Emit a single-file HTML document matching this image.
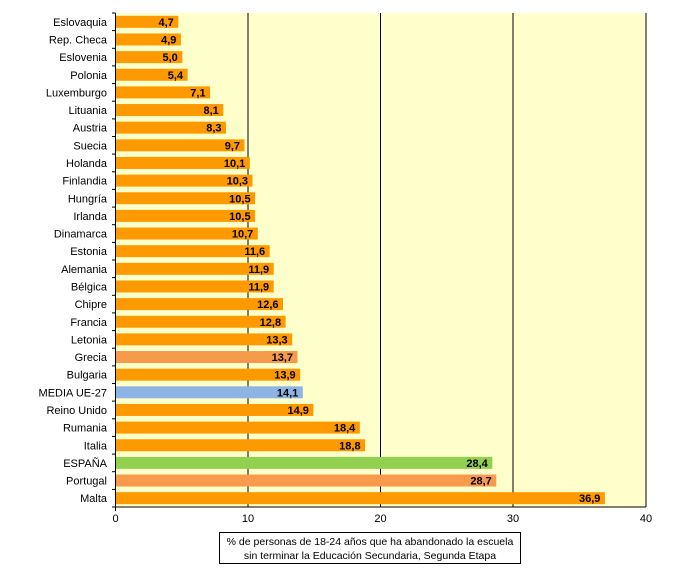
<!DOCTYPE html>
<html><head><meta charset="utf-8"><style>body{margin:0;background:#fff}svg{display:block}</style></head><body>
<svg width="673" height="576" xmlns="http://www.w3.org/2000/svg" font-family="Liberation Sans, Arial, sans-serif" font-size="11">
<rect x="115.5" y="13" width="530.5" height="494" fill="#FFFFCC"/>
<g stroke="#000" stroke-width="1">
<line x1="248" y1="13" x2="248" y2="507"/>
<line x1="380.5" y1="13" x2="380.5" y2="507"/>
<line x1="513" y1="13" x2="513" y2="507"/>
<line x1="646" y1="13" x2="646" y2="507"/>
<line x1="115.5" y1="13" x2="115.5" y2="511"/>
<line x1="112" y1="507" x2="646" y2="507"/>
</g>
<g>
<g transform="translate(0,21.82)"><rect x="116" y="-6" width="62.3" height="12" fill="#FF9900"/><text x="173.8" y="4" text-anchor="end" font-weight="bold">4,7</text><text x="107" y="4" text-anchor="end">Eslovaquia</text></g>
<g transform="translate(0,39.46)"><rect x="116" y="-6" width="64.9" height="12" fill="#FF9900"/><text x="176.4" y="4" text-anchor="end" font-weight="bold">4,9</text><text x="107" y="4" text-anchor="end">Rep. Checa</text></g>
<g transform="translate(0,57.11)"><rect x="116" y="-6" width="66.3" height="12" fill="#FF9900"/><text x="177.8" y="4" text-anchor="end" font-weight="bold">5,0</text><text x="107" y="4" text-anchor="end">Eslovenia</text></g>
<g transform="translate(0,74.75)"><rect x="116" y="-6" width="71.6" height="12" fill="#FF9900"/><text x="183.1" y="4" text-anchor="end" font-weight="bold">5,4</text><text x="107" y="4" text-anchor="end">Polonia</text></g>
<g transform="translate(0,92.39)"><rect x="116" y="-6" width="94.1" height="12" fill="#FF9900"/><text x="205.6" y="4" text-anchor="end" font-weight="bold">7,1</text><text x="107" y="4" text-anchor="end">Luxemburgo</text></g>
<g transform="translate(0,110.04)"><rect x="116" y="-6" width="107.3" height="12" fill="#FF9900"/><text x="218.8" y="4" text-anchor="end" font-weight="bold">8,1</text><text x="107" y="4" text-anchor="end">Lituania</text></g>
<g transform="translate(0,127.68)"><rect x="116" y="-6" width="110" height="12" fill="#FF9900"/><text x="221.5" y="4" text-anchor="end" font-weight="bold">8,3</text><text x="107" y="4" text-anchor="end">Austria</text></g>
<g transform="translate(0,145.32)"><rect x="116" y="-6" width="128.5" height="12" fill="#FF9900"/><text x="240" y="4" text-anchor="end" font-weight="bold">9,7</text><text x="107" y="4" text-anchor="end">Suecia</text></g>
<g transform="translate(0,162.96)"><rect x="116" y="-6" width="133.8" height="12" fill="#FF9900"/><text x="245.3" y="4" text-anchor="end" font-weight="bold">10,1</text><text x="107" y="4" text-anchor="end">Holanda</text></g>
<g transform="translate(0,180.61)"><rect x="116" y="-6" width="136.5" height="12" fill="#FF9900"/><text x="248" y="4" text-anchor="end" font-weight="bold">10,3</text><text x="107" y="4" text-anchor="end">Finlandia</text></g>
<g transform="translate(0,198.25)"><rect x="116" y="-6" width="139.1" height="12" fill="#FF9900"/><text x="250.6" y="4" text-anchor="end" font-weight="bold">10,5</text><text x="107" y="4" text-anchor="end">Hungría</text></g>
<g transform="translate(0,215.89)"><rect x="116" y="-6" width="139.1" height="12" fill="#FF9900"/><text x="250.6" y="4" text-anchor="end" font-weight="bold">10,5</text><text x="107" y="4" text-anchor="end">Irlanda</text></g>
<g transform="translate(0,233.54)"><rect x="116" y="-6" width="141.8" height="12" fill="#FF9900"/><text x="253.3" y="4" text-anchor="end" font-weight="bold">10,7</text><text x="107" y="4" text-anchor="end">Dinamarca</text></g>
<g transform="translate(0,251.18)"><rect x="116" y="-6" width="153.7" height="12" fill="#FF9900"/><text x="265.2" y="4" text-anchor="end" font-weight="bold">11,6</text><text x="107" y="4" text-anchor="end">Estonia</text></g>
<g transform="translate(0,268.82)"><rect x="116" y="-6" width="157.7" height="12" fill="#FF9900"/><text x="269.2" y="4" text-anchor="end" font-weight="bold">11,9</text><text x="107" y="4" text-anchor="end">Alemania</text></g>
<g transform="translate(0,286.46)"><rect x="116" y="-6" width="157.7" height="12" fill="#FF9900"/><text x="269.2" y="4" text-anchor="end" font-weight="bold">11,9</text><text x="107" y="4" text-anchor="end">Bélgica</text></g>
<g transform="translate(0,304.11)"><rect x="116" y="-6" width="167" height="12" fill="#FF9900"/><text x="278.5" y="4" text-anchor="end" font-weight="bold">12,6</text><text x="107" y="4" text-anchor="end">Chipre</text></g>
<g transform="translate(0,321.75)"><rect x="116" y="-6" width="169.6" height="12" fill="#FF9900"/><text x="281.1" y="4" text-anchor="end" font-weight="bold">12,8</text><text x="107" y="4" text-anchor="end">Francia</text></g>
<g transform="translate(0,339.39)"><rect x="116" y="-6" width="176.2" height="12" fill="#FF9900"/><text x="287.7" y="4" text-anchor="end" font-weight="bold">13,3</text><text x="107" y="4" text-anchor="end">Letonia</text></g>
<g transform="translate(0,357.04)"><rect x="116" y="-6" width="181.5" height="12" fill="#F79A4C"/><text x="293" y="4" text-anchor="end" font-weight="bold">13,7</text><text x="107" y="4" text-anchor="end">Grecia</text></g>
<g transform="translate(0,374.68)"><rect x="116" y="-6" width="184.2" height="12" fill="#FF9900"/><text x="295.7" y="4" text-anchor="end" font-weight="bold">13,9</text><text x="107" y="4" text-anchor="end">Bulgaria</text></g>
<g transform="translate(0,392.32)"><rect x="116" y="-6" width="186.8" height="12" fill="#8DB4E2"/><text x="298.3" y="4" text-anchor="end" font-weight="bold">14,1</text><text x="107" y="4" text-anchor="end">MEDIA  UE-27</text></g>
<g transform="translate(0,409.96)"><rect x="116" y="-6" width="197.4" height="12" fill="#FF9900"/><text x="308.9" y="4" text-anchor="end" font-weight="bold">14,9</text><text x="107" y="4" text-anchor="end">Reino Unido</text></g>
<g transform="translate(0,427.61)"><rect x="116" y="-6" width="243.8" height="12" fill="#FF9900"/><text x="355.3" y="4" text-anchor="end" font-weight="bold">18,4</text><text x="107" y="4" text-anchor="end">Rumania</text></g>
<g transform="translate(0,445.25)"><rect x="116" y="-6" width="249.1" height="12" fill="#FF9900"/><text x="360.6" y="4" text-anchor="end" font-weight="bold">18,8</text><text x="107" y="4" text-anchor="end">Italia</text></g>
<g transform="translate(0,462.89)"><rect x="116" y="-6" width="376.3" height="12" fill="#92D050"/><text x="487.8" y="4" text-anchor="end" font-weight="bold">28,4</text><text x="107" y="4" text-anchor="end">ESPAÑA</text></g>
<g transform="translate(0,480.54)"><rect x="116" y="-6" width="380.3" height="12" fill="#F79A4C"/><text x="491.8" y="4" text-anchor="end" font-weight="bold">28,7</text><text x="107" y="4" text-anchor="end">Portugal</text></g>
<g transform="translate(0,498.18)"><rect x="116" y="-6" width="488.9" height="12" fill="#FF9900"/><text x="600.4" y="4" text-anchor="end" font-weight="bold">36,9</text><text x="107" y="4" text-anchor="end">Malta</text></g>
</g>
<g stroke="#000">
<line x1="112" x2="115.5" y1="13" y2="13"/><line x1="112" x2="115.5" y1="30.6" y2="30.6"/><line x1="112" x2="115.5" y1="48.3" y2="48.3"/><line x1="112" x2="115.5" y1="65.9" y2="65.9"/><line x1="112" x2="115.5" y1="83.6" y2="83.6"/><line x1="112" x2="115.5" y1="101.2" y2="101.2"/><line x1="112" x2="115.5" y1="118.9" y2="118.9"/><line x1="112" x2="115.5" y1="136.5" y2="136.5"/><line x1="112" x2="115.5" y1="154.1" y2="154.1"/><line x1="112" x2="115.5" y1="171.8" y2="171.8"/><line x1="112" x2="115.5" y1="189.4" y2="189.4"/><line x1="112" x2="115.5" y1="207.1" y2="207.1"/><line x1="112" x2="115.5" y1="224.7" y2="224.7"/><line x1="112" x2="115.5" y1="242.4" y2="242.4"/><line x1="112" x2="115.5" y1="260" y2="260"/><line x1="112" x2="115.5" y1="277.6" y2="277.6"/><line x1="112" x2="115.5" y1="295.3" y2="295.3"/><line x1="112" x2="115.5" y1="312.9" y2="312.9"/><line x1="112" x2="115.5" y1="330.6" y2="330.6"/><line x1="112" x2="115.5" y1="348.2" y2="348.2"/><line x1="112" x2="115.5" y1="365.9" y2="365.9"/><line x1="112" x2="115.5" y1="383.5" y2="383.5"/><line x1="112" x2="115.5" y1="401.1" y2="401.1"/><line x1="112" x2="115.5" y1="418.8" y2="418.8"/><line x1="112" x2="115.5" y1="436.4" y2="436.4"/><line x1="112" x2="115.5" y1="454.1" y2="454.1"/><line x1="112" x2="115.5" y1="471.7" y2="471.7"/><line x1="112" x2="115.5" y1="489.4" y2="489.4"/>
</g>
<g font-size="11" text-anchor="middle">
<text x="115.5" y="522">0</text><text x="248" y="522">10</text><text x="380.5" y="522">20</text><text x="513" y="522">30</text><text x="646" y="522">40</text>
</g>
<rect x="219.5" y="532.5" width="301" height="31" fill="#fff" stroke="#000"/>
<text x="370" y="545" text-anchor="middle" font-size="10.5">% de personas de 18-24 años que ha abandonado la escuela</text>
<text x="370" y="559" text-anchor="middle" font-size="10.5">sin terminar la Educación Secundaria, Segunda Etapa</text>
</svg>
</body></html>
